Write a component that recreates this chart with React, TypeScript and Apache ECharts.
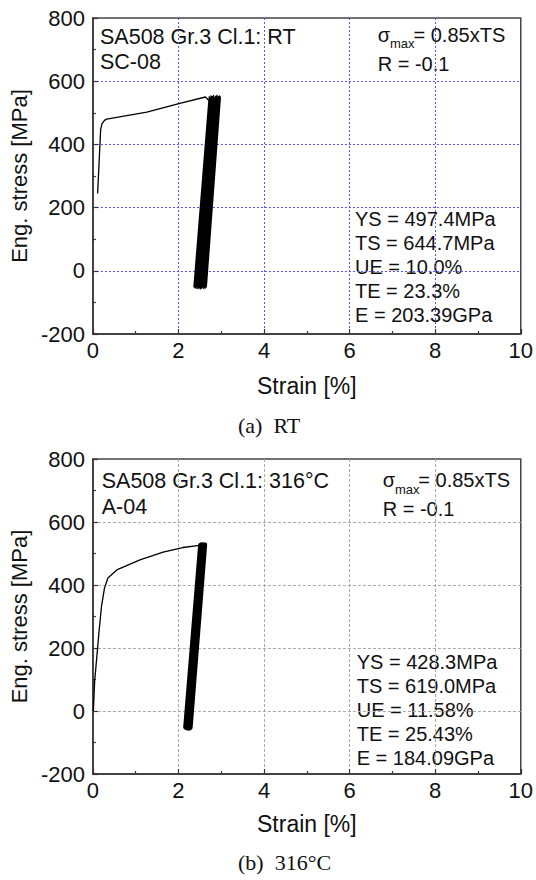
import React, { useEffect, useRef } from "react";
import * as echarts from "echarts";

// ---- (a) RT ----
const rtMonoStrain = [0.11, 0.18, 0.21, 0.27, 0.32, 1.26, 2.03, 2.63, 2.71];
const rtMonoStress = [245, 446, 465, 476, 480, 502, 530, 550, 539];
const rtPeakStrain = [2.72, 2.74, 2.76, 2.77, 2.79, 2.81, 2.82, 2.84, 2.85, 2.87, 2.88, 2.9, 2.91, 2.93, 2.94, 2.96, 2.97, 2.98];
const rtPeakStress = [552, 548, 555, 550, 553, 547, 556, 551, 549, 554, 550, 557, 548, 553, 551, 555, 549, 552];
const rtValleyStrain = [2.36, 2.38, 2.4, 2.41, 2.43, 2.45, 2.46, 2.48, 2.49, 2.51, 2.52, 2.54, 2.55, 2.57, 2.59, 2.61, 2.63, 2.65];
const rtValleyStress = [-52, -55, -50, -57, -53, -58, -51, -56, -54, -59, -52, -57, -55, -53, -58, -54, -56, -52];

// ---- (b) 316°C ----
const htMonoStrain = [0.01, 0.04, 0.14, 0.2, 0.27, 0.35, 0.57, 1.1, 1.64, 2.1, 2.49];
const htMonoStress = [0, 94, 248, 332, 390, 422, 449, 480, 504, 519, 526];
const htPeakStrain = [2.5, 2.52, 2.53, 2.55, 2.56, 2.58, 2.59, 2.6, 2.62, 2.63];
const htPeakStress = [528, 525, 530, 526, 529, 524, 530, 527, 525, 529];
const htValleyStrain = [2.15, 2.17, 2.18, 2.2, 2.21, 2.23, 2.24, 2.26, 2.27, 2.29];
const htValleyStress = [-52, -55, -50, -56, -53, -57, -51, -54, -56, -53];

// ---- axes ----
const xMin = 0, xMax = 10, xStep = 2;
const yMin = -200, yMax = 800, yStep = 200;

// ---- texts ----
const rtTitle = ["SA508 Gr.3 Cl.1: RT", "SC-08"];
const htTitle = ["SA508 Gr.3 Cl.1: 316°C", "A-04"];
const rtProps = ["YS = 497.4MPa", "TS = 644.7MPa", "UE = 10.0%", "TE = 23.3%", "E = 203.39GPa"];
const htProps = ["YS = 428.3MPa", "TS = 619.0MPa", "UE = 11.58%", "TE = 25.43%", "E = 184.09GPa"];

const SANS = "'Liberation Sans', Arial, sans-serif";
const SERIF = "'Liberation Serif', 'Times New Roman', serif";
const INK = "#111";

function zip(a: number[], b: number[]) {
  return a.map((v, i) => [v, b[i]]);
}
function zigzag(peakX: number[], peakY: number[], valX: number[], valY: number[]) {
  const out: number[][] = [];
  for (let i = 0; i < peakX.length; i++) {
    out.push([valX[i], valY[i]]);
    out.push([peakX[i], peakY[i]]);
  }
  return out;
}

function xAxisFor(idx: number, gridColor: string, dash: number[], gap: number) {
  return {
    gridIndex: idx,
    type: "value",
    min: xMin,
    max: xMax,
    interval: xStep,
    name: "Strain [%]",
    nameLocation: "middle",
    nameGap: gap,
    nameTextStyle: { fontSize: 23, fontFamily: SANS, color: INK },
    axisLine: { show: true, onZero: false, lineStyle: { color: "#333", width: 1.5 } },
    axisTick: { show: true, inside: true, length: 5, lineStyle: { color: "#333", width: 1.2 } },
    minorTick: { show: true, splitNumber: 2, length: 3, lineStyle: { color: "#333", width: 1.2 } },
    axisLabel: { fontSize: 22, fontFamily: SANS, color: INK, margin: 5 },
    splitLine: { show: true, showMinLine: false, showMaxLine: false, lineStyle: { color: gridColor, type: dash, width: 1 } },
  };
}
function yAxisFor(idx: number, gridColor: string, dash: number[]) {
  return {
    gridIndex: idx,
    type: "value",
    min: yMin,
    max: yMax,
    interval: yStep,
    name: "Eng. stress [MPa]",
    nameLocation: "middle",
    nameGap: 60,
    nameTextStyle: { fontSize: 22, fontFamily: SANS, color: INK },
    axisLine: { show: true, onZero: false, lineStyle: { color: "#333", width: 1.5 } },
    axisTick: { show: true, inside: true, length: 5, lineStyle: { color: "#333", width: 1.2 } },
    minorTick: { show: true, splitNumber: 2, length: 3, lineStyle: { color: "#333", width: 1.2 } },
    axisLabel: { fontSize: 22, fontFamily: SANS, color: INK, margin: 8 },
    splitLine: { show: true, showMinLine: false, showMaxLine: false, lineStyle: { color: gridColor, type: dash, width: 1 } },
  };
}

function txt(text: string, x: number, y: number, size: number, family = SANS, align = "left") {
  return {
    type: "text",
    x,
    y,
    style: { text, fontSize: size, fontFamily: family, fill: INK, verticalAlign: "middle", align },
  };
}

export default function App() {
  const ref = useRef<HTMLDivElement>(null);
  useEffect(() => {
    if (!ref.current) return;
    const chart = echarts.init(ref.current, undefined, { renderer: "svg" });
    const graphics: any[] = [
      // top panel
      txt(rtTitle[0], 100, 37, 21.5),
      txt(rtTitle[1], 100, 62, 21.5),
      txt("σ", 377.7, 35, 20),
      txt("max", 390, 43.5, 13),
      txt("= 0.85xTS", 413.5, 35, 20),
      txt("R = -0.1", 377.7, 64.3, 20),
      ...rtProps.map((t, i) => txt(t, 355, 219 + i * 24, 20)),
      txt("(a)  RT", 238, 425, 22, SERIF),
      // bottom panel
      txt(htTitle[0], 101.7, 481, 21.5),
      txt(htTitle[1], 101.7, 507, 21.5),
      txt("σ", 382.7, 480, 20),
      txt("max", 395, 489, 13),
      txt("= 0.85xTS", 418.3, 480, 20),
      txt("R = -0.1", 382.7, 509.3, 20),
      ...htProps.map((t, i) => txt(t, 356.7, 662 + i * 24, 20)),
      txt("(b)  316°C", 238, 862, 22, SERIF),
    ];
    chart.setOption({
      animation: false,
      backgroundColor: "#fff",
      grid: [
        { left: 89, width: 433, top: 18, height: 316, show: true, borderColor: "#444", borderWidth: 1.5, backgroundColor: "transparent" },
        { left: 89, width: 433, top: 459, height: 315, show: true, borderColor: "#444", borderWidth: 1.5, backgroundColor: "transparent" },
      ],
      xAxis: [xAxisFor(0, "#5555ff", [2, 2], 40), xAxisFor(1, "#aaaaaa", [3, 2], 38)],
      yAxis: [yAxisFor(0, "#5555ff", [2, 2]), yAxisFor(1, "#aaaaaa", [3, 2])],
      series: [
        {
          type: "line",
          xAxisIndex: 0,
          yAxisIndex: 0,
          data: zip(rtMonoStrain, rtMonoStress),
          symbol: "none",
          lineStyle: { color: "#000", width: 1.3 },
        },
        {
          type: "line",
          xAxisIndex: 0,
          yAxisIndex: 0,
          data: [[rtMonoStrain[rtMonoStrain.length - 1], rtMonoStress[rtMonoStress.length - 1]], ...zigzag(rtPeakStrain, rtPeakStress, rtValleyStrain, rtValleyStress)],
          symbol: "none",
          lineStyle: { color: "#000", width: 1.3 },
        },
        {
          type: "line",
          xAxisIndex: 1,
          yAxisIndex: 1,
          data: zip(htMonoStrain, htMonoStress),
          symbol: "none",
          lineStyle: { color: "#000", width: 1.3 },
        },
        {
          type: "line",
          xAxisIndex: 1,
          yAxisIndex: 1,
          data: zigzag(htPeakStrain, htPeakStress, htValleyStrain, htValleyStress),
          symbol: "none",
          lineStyle: { color: "#000", width: 3.5, join: "round", cap: "round" },
        },
      ],
      graphic: graphics,
    });
    return () => chart.dispose();
  }, []);
  return <div ref={ref} style={{ position: "absolute", left: 0, top: 0, width: 536, height: 880 }} />;
}
